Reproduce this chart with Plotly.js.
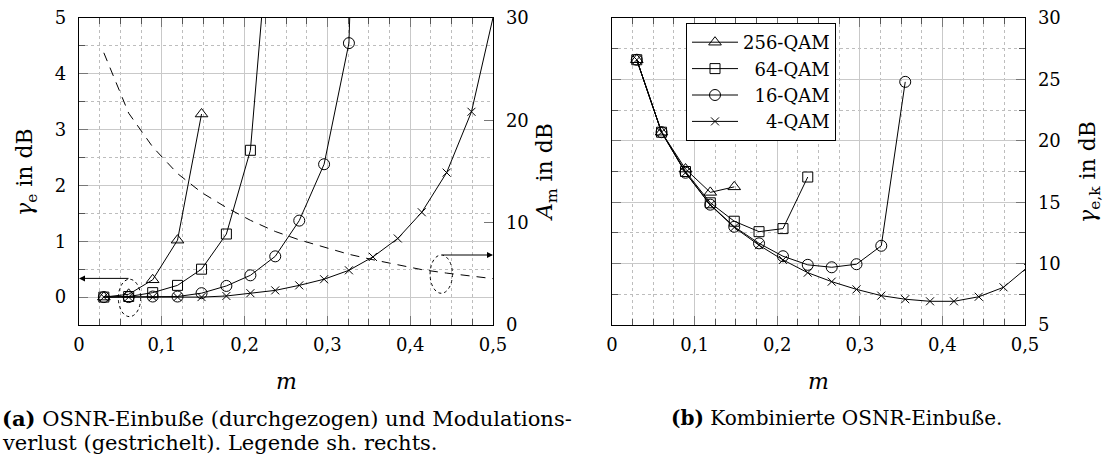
<!DOCTYPE html>
<html>
<head>
<meta charset="utf-8">
<script src="https://cdn.plot.ly/plotly-3.0.1.min.js"></script>
<style>html,body{margin:0;padding:0;background:#fff;}</style>
</head>
<body>
<div id="chart" style="width:1110px;height:462px;"></div>
<script>
// ---------- data ----------
const mVals = [0.03, 0.06, 0.089, 0.119, 0.148, 0.178, 0.207, 0.237, 0.266, 0.296, 0.326, 0.355, 0.385, 0.414, 0.444, 0.474, 0.503];

// (a) OSNR penalty gamma_e in dB (left axis)
const gamma256 = [0, 0.05, 0.31, 1.02, 3.28];
const gamma64  = [0, 0.01, 0.08, 0.21, 0.5, 1.13, 2.63, 7.9];
const gamma16  = [0, 0, 0.01, 0.01, 0.07, 0.2, 0.39, 0.73, 1.37, 2.38, 4.55, 18.4];
const gamma4   = [0, 0, 0, 0, 0, 0.02, 0.07, 0.12, 0.21, 0.32, 0.48, 0.72, 1.05, 1.52, 2.23, 3.32, 5.2];
// (a) modulation loss A_m in dB (right axis, dashed)
const modLoss  = [26.6, 20.7, 17.4, 14.8, 12.95, 11.48, 10.23, 9.14, 8.32, 7.58, 6.91, 6.38, 5.88, 5.41, 5.07, 4.75, 4.5];

// (b) combined OSNR penalty gamma_e,k in dB
const comb256 = [26.6, 20.7, 17.7, 15.8, 16.25];
const comb64  = [26.6, 20.7, 17.5, 14.95, 13.45, 12.6, 12.85, 17.05];
const comb16  = [26.6, 20.7, 17.4, 14.8, 13.0, 11.65, 10.6, 9.9, 9.7, 9.95, 11.45, 24.8];
const comb4   = [26.6, 20.7, 17.4, 14.77, 12.95, 11.5, 10.3, 9.26, 8.53, 7.9, 7.39, 7.1, 6.93, 6.93, 7.3, 8.07, 9.7];

const seriesNames = ['256-QAM', '\u200764-QAM', '\u200716-QAM', '\u2007\u20074-QAM'];
const xTickVals = [0, 0.1, 0.2, 0.3, 0.4, 0.5];

// ---------- styling ----------
const W = 1110, H = 462;
const FONT = 'DejaVu Serif';
const fx = p => p / W;
const fy = p => 1 - p / H;

const symbols = ['triangle-up-open', 'square-open', 'circle-open', 'x-thin-open'];
const sizes = [11, 10, 11, 8];

function trace(x, y, k, xa, ya, showLeg) {
  return {
    x: x.slice(0, y.length), y: y, xaxis: xa, yaxis: ya,
    type: 'scatter', mode: 'lines+markers',
    name: seriesNames[k], showlegend: showLeg, legendrank: k + 1,
    line: {color: '#000', width: 1},
    marker: {symbol: symbols[k], size: sizes[k], color: '#000',
             line: {color: '#000', width: 1}},
    hoverinfo: 'skip'
  };
}

const gammas = [gamma256, gamma64, gamma16, gamma4];
const combs = [comb256, comb64, comb16, comb4];
const data = [];
for (let k = 3; k >= 0; k--) data.push(trace(mVals, gammas[k], k, 'x', 'y', false));
data.push({
  x: mVals, y: modLoss, xaxis: 'x', yaxis: 'y2', type: 'scatter', mode: 'lines',
  line: {color: '#000', width: 1, dash: '9px,7px'}, showlegend: false, hoverinfo: 'skip'
});
for (let k = 0; k < 4; k++) data.push(trace(mVals, combs[k], k, 'x2', 'y3', true));

const gridMajor = '#c9c9c9';
const gridMinor = '#bdbdbd';
const tickFont = {family: FONT, size: 18, color: '#000'};

function xAxis(domain, anchor) {
  return {
    domain: domain, anchor: anchor, range: [0, 0.5], tickvals: xTickVals,
    showline: true, linecolor: '#000', linewidth: 1.3, mirror: 'ticks',
    ticks: 'inside', ticklen: 9, tickcolor: '#777', tickwidth: 1,
    showgrid: true, gridcolor: gridMajor, gridwidth: 1, zeroline: false,
    minor: {dtick: 0.025, ticks: 'inside', ticklen: 6, tickcolor: '#555',
            showgrid: true, gridcolor: gridMinor, griddash: 'dot', gridwidth: 1},
    tickfont: tickFont, ticklabelstandoff: 3, automargin: false, fixedrange: true
  };
}

const yDom = [fy(325), fy(18)];

const layout = {
  width: W, height: H, autosize: false,
  margin: {l: 0, r: 0, t: 0, b: 0, pad: 0},
  paper_bgcolor: '#fff', plot_bgcolor: '#fff',
  separators: ',.',
  font: {family: FONT, color: '#000', size: 18},
  showlegend: true,
  xaxis: xAxis([fx(79), fx(493)], 'y'),
  xaxis2: xAxis([fx(612), fx(1025)], 'y3'),
  yaxis: {
    domain: yDom, anchor: 'x', range: [-0.5, 5], dtick: 1, tick0: 0,
    showline: true, linecolor: '#000', linewidth: 1.3, mirror: false,
    ticks: 'inside', ticklen: 9, tickcolor: '#777',
    showgrid: true, gridcolor: gridMajor, zeroline: false,
    minor: {dtick: 0.5, ticks: 'inside', ticklen: 6, tickcolor: '#555',
            showgrid: true, gridcolor: gridMinor, griddash: 'dot'},
    tickfont: tickFont, ticklabelstandoff: 8, automargin: false, fixedrange: true
  },
  yaxis2: {
    overlaying: 'y', anchor: 'x', side: 'right', range: [0, 30], dtick: 10,
    showline: true, linecolor: '#000', linewidth: 1.3,
    ticks: 'inside', ticklen: 9, tickcolor: '#777',
    showgrid: false, zeroline: false,
    tickfont: tickFont, ticklabelstandoff: 8, automargin: false, fixedrange: true
  },
  yaxis3: {
    domain: yDom, anchor: 'x2', side: 'right', range: [5, 30], dtick: 5, tick0: 0,
    showline: true, linecolor: '#000', linewidth: 1.3, mirror: 'ticks',
    ticks: 'inside', ticklen: 9, tickcolor: '#777',
    showgrid: true, gridcolor: gridMajor, zeroline: false,
    minor: {dtick: 2.5, ticks: 'inside', ticklen: 6, tickcolor: '#555',
            showgrid: true, gridcolor: gridMinor, griddash: 'dot'},
    tickfont: tickFont, ticklabelstandoff: 8, automargin: false, fixedrange: true
  },
  legend: {
    x: fx(686), y: fy(23), xanchor: 'left', yanchor: 'top',
    bgcolor: '#fff', bordercolor: '#000', borderwidth: 1,
    font: {family: FONT, size: 18, color: '#000'},
    itemwidth: 46, entrywidth: 176, entrywidthmode: 'pixels',
    traceorder: 'normal', tracegroupgap: 0
  },
  shapes: [
    {type: 'circle', xref: 'x', yref: 'y', x0: 0.0475, x1: 0.0745, y0: -0.35, y1: 0.32,
     line: {color: '#000', width: 1, dash: 'dot'}},
    {type: 'circle', xref: 'x', yref: 'y2', x0: 0.424, x1: 0.451, y0: 3.1, y1: 6.84,
     line: {color: '#000', width: 1, dash: 'dot'}}
  ],
  annotations: [
    {x: 0, y: 0.335, xref: 'x', yref: 'y', ax: 0.0616, ay: 0.335, axref: 'x', ayref: 'y',
     text: '', showarrow: true, arrowhead: 2, arrowsize: 1.2, arrowwidth: 1, arrowcolor: '#000'},
    {x: 0.5, y: 6.84, xref: 'x', yref: 'y2', ax: 0.437, ay: 6.84, axref: 'x', ayref: 'y2',
     text: '', showarrow: true, arrowhead: 2, arrowsize: 1.2, arrowwidth: 1, arrowcolor: '#000'},
    // axis titles
    {xref: 'paper', yref: 'paper', x: fx(26), y: fy(172), text: '<i>γ</i><sub>e</sub> in dB',
     showarrow: false, textangle: -90, font: {family: FONT, size: 22}, xanchor: 'center', yanchor: 'middle'},
    {xref: 'paper', yref: 'paper', x: fx(546), y: fy(172), text: '<i>A</i><sub>m</sub> in dB',
     showarrow: false, textangle: -90, font: {family: FONT, size: 22}, xanchor: 'center', yanchor: 'middle'},
    {xref: 'paper', yref: 'paper', x: fx(1089), y: fy(172), text: '<i>γ</i><sub>e,k</sub> in dB',
     showarrow: false, textangle: -90, font: {family: FONT, size: 22}, xanchor: 'center', yanchor: 'middle'},
    {xref: 'paper', yref: 'paper', x: fx(286), y: fy(381), text: '<i>m</i>',
     showarrow: false, font: {family: FONT, size: 22}, xanchor: 'center', yanchor: 'middle'},
    {xref: 'paper', yref: 'paper', x: fx(818), y: fy(381), text: '<i>m</i>',
     showarrow: false, font: {family: FONT, size: 22}, xanchor: 'center', yanchor: 'middle'},
    // captions
    {xref: 'paper', yref: 'paper', x: fx(0), y: fy(418), text: '<b>(a)</b> OSNR-Einbuße (durchgezogen) und Modulations-',
     showarrow: false, font: {family: FONT, size: 21}, xanchor: 'left', yanchor: 'middle'},
    {xref: 'paper', yref: 'paper', x: fx(0), y: fy(443), text: 'verlust (gestrichelt). Legende sh. rechts.',
     showarrow: false, font: {family: FONT, size: 21}, xanchor: 'left', yanchor: 'middle'},
    {xref: 'paper', yref: 'paper', x: fx(836), y: fy(418), text: '<b>(b)</b> Kombinierte OSNR-Einbuße.',
     showarrow: false, font: {family: FONT, size: 20}, xanchor: 'center', yanchor: 'middle'}
  ]
};

Plotly.newPlot('chart', data, layout, {staticPlot: true, displayModeBar: false});
</script>
</body>
</html>
